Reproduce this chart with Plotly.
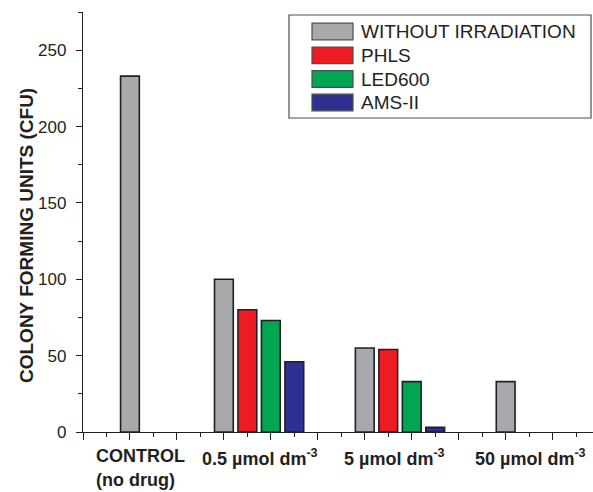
import plotly.graph_objects as go

# ---- data ----
group_labels = ["CONTROL<br>(no drug)", "0.5 µmol dm<sup>-3</sup>", "5 µmol dm<sup>-3</sup>", "50 µmol dm<sup>-3</sup>"]
series_names = ["WITHOUT IRRADIATION", "PHLS", "LED600", "AMS-II"]
without_irradiation = [233, 100, 55, 33]
phls = [None, 80, 54, 0]
led600 = [None, 73, 33, 0]
ams_ii = [None, 46, 3, 0]
y_ticks = [0, 50, 100, 150, 200, 250]

series_values = [without_irradiation, phls, led600, ams_ii]
colors = ["#a7a9ac", "#ed1c24", "#00a651", "#2e3192"]
edge = "#231f20"

# ---- layout constants ----
W, H = 593, 492
L, R, T, B = 83, 0, 12, 60
PW, PH = W - L - R, H - T - B
group_start = [2, 6, 12, 18]
label_x = [0.45, 5.0, 11.05, 16.6]
x_max = (W - L) / 23.48

def px_x(px):
    return (px - L) / PW

def px_y(py):
    return (H - B - py) / PH

fig = go.Figure()
for s, (name, vals, col) in enumerate(zip(series_names, series_values, colors)):
    xs, ys = [], []
    for g, v in enumerate(vals):
        if not v:
            continue  # no colonies / not measured: no visible bar
        xs.append(group_start[g] + s)
        ys.append(v)
    fig.add_trace(go.Bar(
        x=xs, y=ys, name=name, width=0.8,
        marker=dict(color=col, line=dict(color=edge, width=1.6)),
        showlegend=False,
    ))

font_family = "Liberation Sans, Arial, sans-serif"

fig.update_layout(
    width=W, height=H,
    margin=dict(l=L, r=R, t=T, b=B, pad=0),
    plot_bgcolor="white", paper_bgcolor="white",
    barmode="overlay",
    font=dict(family=font_family, color="#231f20", size=17),
    xaxis=dict(
        range=[0, x_max], showgrid=False, zeroline=False,
        showline=True, linecolor=edge, linewidth=1.3,
        tickmode="array", tickvals=list(range(0, 23, 2)), ticktext=[""] * 12,
        ticks="outside", ticklen=7, tickwidth=1.2, tickcolor=edge,
        minor=dict(tickmode="array", tickvals=list(range(1, 23, 2)), ticks="outside",
                   ticklen=3.5, tickwidth=1.2, tickcolor=edge),
    ),
    yaxis=dict(
        range=[0, 275], showgrid=False, zeroline=False,
        showline=True, linecolor=edge, linewidth=1.3,
        tickmode="array", tickvals=y_ticks,
        ticks="outside", ticklen=6, tickwidth=1.2, tickcolor=edge,
        tickfont=dict(size=17), ticklabelstandoff=6,
        minor=dict(tickmode="array", tickvals=[25, 75, 125, 175, 225, 275], ticks="outside",
                   ticklen=3.5, tickwidth=1.2, tickcolor=edge),
    ),
)

# y-axis title
fig.add_annotation(
    text="<b>COLONY FORMING UNITS (CFU)</b>", textangle=-90,
    xref="paper", yref="paper", x=px_x(26), y=px_y(236),
    xanchor="center", yanchor="middle", showarrow=False,
    font=dict(size=19, family=font_family),
)

# group labels (each line placed separately for the wider line spacing)
for g, lab in enumerate(group_labels):
    for i, line in enumerate(lab.split("<br>")):
        fig.add_annotation(
            text="<b>" + line + "</b>", xref="x", yref="paper",
            x=label_x[g], y=px_y(444 + 24 * i), xanchor="left", yanchor="top",
            align="left", showarrow=False, font=dict(size=18, family=font_family),
        )

# legend box
fig.add_shape(type="rect", xref="paper", yref="paper",
              x0=px_x(289), x1=px_x(591), y0=px_y(118), y1=px_y(15),
              line=dict(color="#4d4d4f", width=1.2), fillcolor="white", layer="above")
row_y = [31.5, 55.3, 79, 102.5]
for name, col, ry in zip(series_names, colors, row_y):
    fig.add_shape(type="rect", xref="paper", yref="paper",
                  x0=px_x(312), x1=px_x(353), y0=px_y(ry + 8.3), y1=px_y(ry - 8.3),
                  line=dict(color="#4d4d4f", width=1.2), fillcolor=col, layer="above")
    fig.add_annotation(text=name, xref="paper", yref="paper",
                       x=px_x(359), y=px_y(ry), xanchor="left", yanchor="middle",
                       showarrow=False, font=dict(size=19, family=font_family))

fig.write_html("out.html", config={"displayModeBar": False},
               post_script="document.body.style.margin='0px';")
